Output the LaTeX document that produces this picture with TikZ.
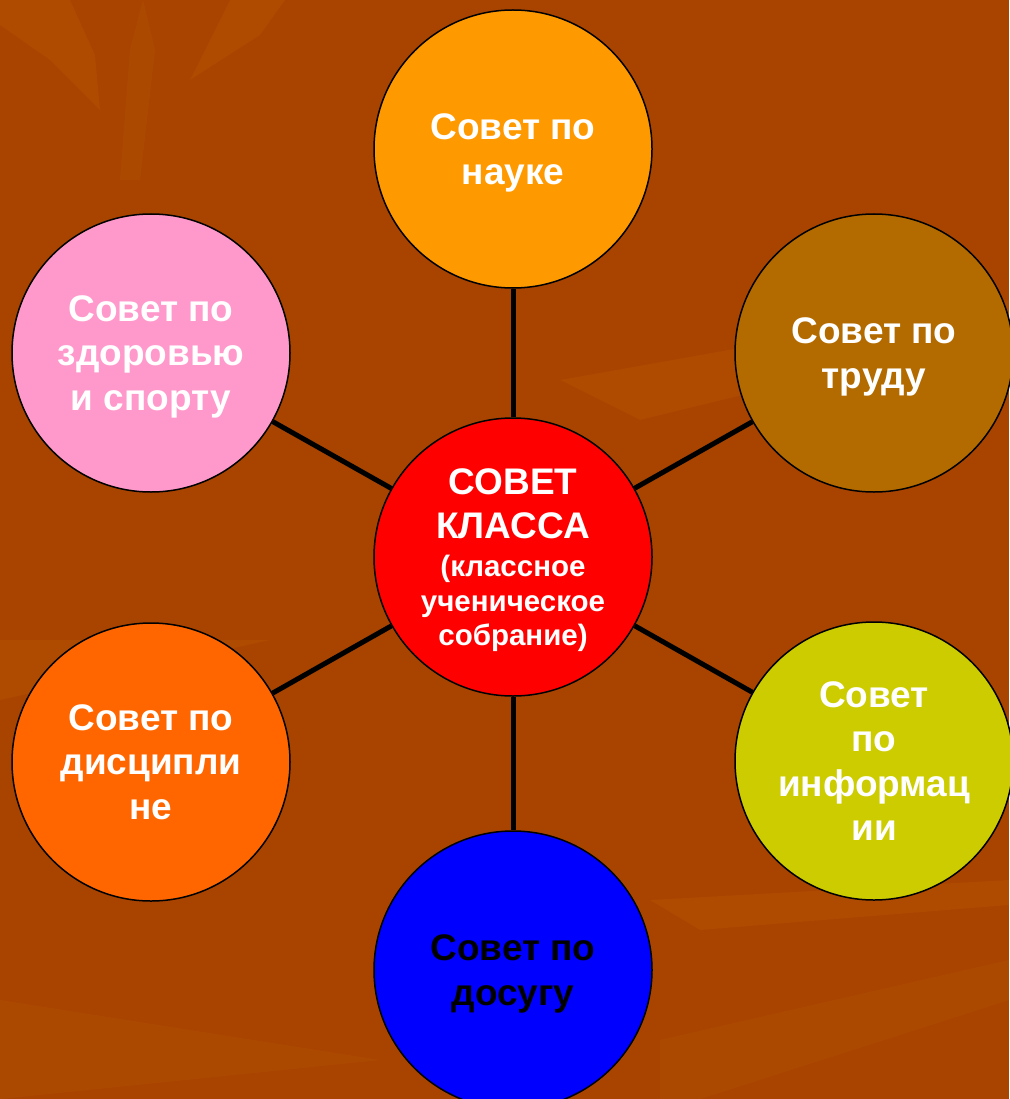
\documentclass[tikz,border=0pt]{standalone}
\usepackage{fontspec}
\setmainfont{Liberation Sans}

\definecolor{bgbrown}{HTML}{A84400}
\definecolor{streak}{HTML}{C06000}
\definecolor{naukaorange}{HTML}{FF9900}
\definecolor{trudbrown}{HTML}{B36B00}
\definecolor{infoyellow}{HTML}{CCCC00}
\definecolor{discorange}{HTML}{FF6600}
\definecolor{zdorpink}{HTML}{FF99CC}

\newcommand{\smalltxt}{\fontsize{29.5}{34.5}\selectfont}
\newcommand{\ls}{\rule[-7.8pt]{0pt}{41.3pt}}

\tikzset{
  council/.style={circle, draw=black, line width=1.5pt, minimum size=278pt,
    inner sep=0pt, align=center, text=white,
    font=\fontsize{37}{44.5}\selectfont\bfseries},
  link/.style={line width=5pt},
}

\begin{document}
\begin{tikzpicture}[x=1pt,y=-1pt]
    \useasboundingbox (0,0) rectangle (1009,1099);
    \fill[bgbrown] (0,0) rectangle (1009,1099);
    % faint streaks in the background
    \fill[streak, opacity=0.25] (0,0) -- (70,0) -- (95,55) -- (100,110) -- (50,60) -- (0,25) -- cycle;
    \fill[streak, opacity=0.25] (230,0) -- (285,0) -- (260,35) -- (190,80) -- cycle;
    \fill[streak, opacity=0.2] (143,0) -- (155,50) -- (140,180) -- (120,180) -- (130,50) -- cycle;
    \fill[streak, opacity=0.25] (560,380) -- (1009,300) -- (1009,330) -- (640,420) -- cycle;
    \fill[streak, opacity=0.25] (0,640) -- (270,640) -- (0,700) -- cycle;
    \fill[streak, opacity=0.25] (650,900) -- (1009,880) -- (1009,905) -- (700,930) -- cycle;
    \fill[streak, opacity=0.2] (0,1000) -- (380,1060) -- (0,1099) -- cycle;
    \fill[streak, opacity=0.2] (660,1040) -- (1009,960) -- (1009,1000) -- (700,1099) -- (660,1099) -- cycle;

    \node[council, fill=red, inner sep=-18pt] (klass) at (513,557)
      {\ls СОВЕТ\\КЛАССА\\[-6.5pt]\smalltxt(классное\\[-10pt]\smalltxt ученическое\\[-10pt]\smalltxt собрание)\ls};
    \node[council, fill=naukaorange] (nauka) at (513,149) {\ls Совет по\\науке\ls};
    \node[council, fill=trudbrown] (trud) at (874,353) {\ls Совет по\\труду\ls};
    \node[council, fill=infoyellow] (info) at (874,761) {\ls Совет\\по\\информац\\ии\ls};
    \node[council, fill=blue, text=black] (dosug) at (513,970) {\ls Совет по\\досугу\ls};
    \node[council, fill=discorange] (disc) at (151,762) {\ls Совет по\\дисципли\\не\ls};
    \node[council, fill=zdorpink] (zdor) at (151,353) {\ls Совет по\\здоровью\\и спорту\ls};

    \draw[link] (klass) -- (nauka);
    \draw[link] (klass) -- (trud);
    \draw[link] (klass) -- (info);
    \draw[link] (klass) -- (dosug);
    \draw[link] (klass) -- (disc);
    \draw[link] (klass) -- (zdor);
  \end{tikzpicture}
\end{document}
